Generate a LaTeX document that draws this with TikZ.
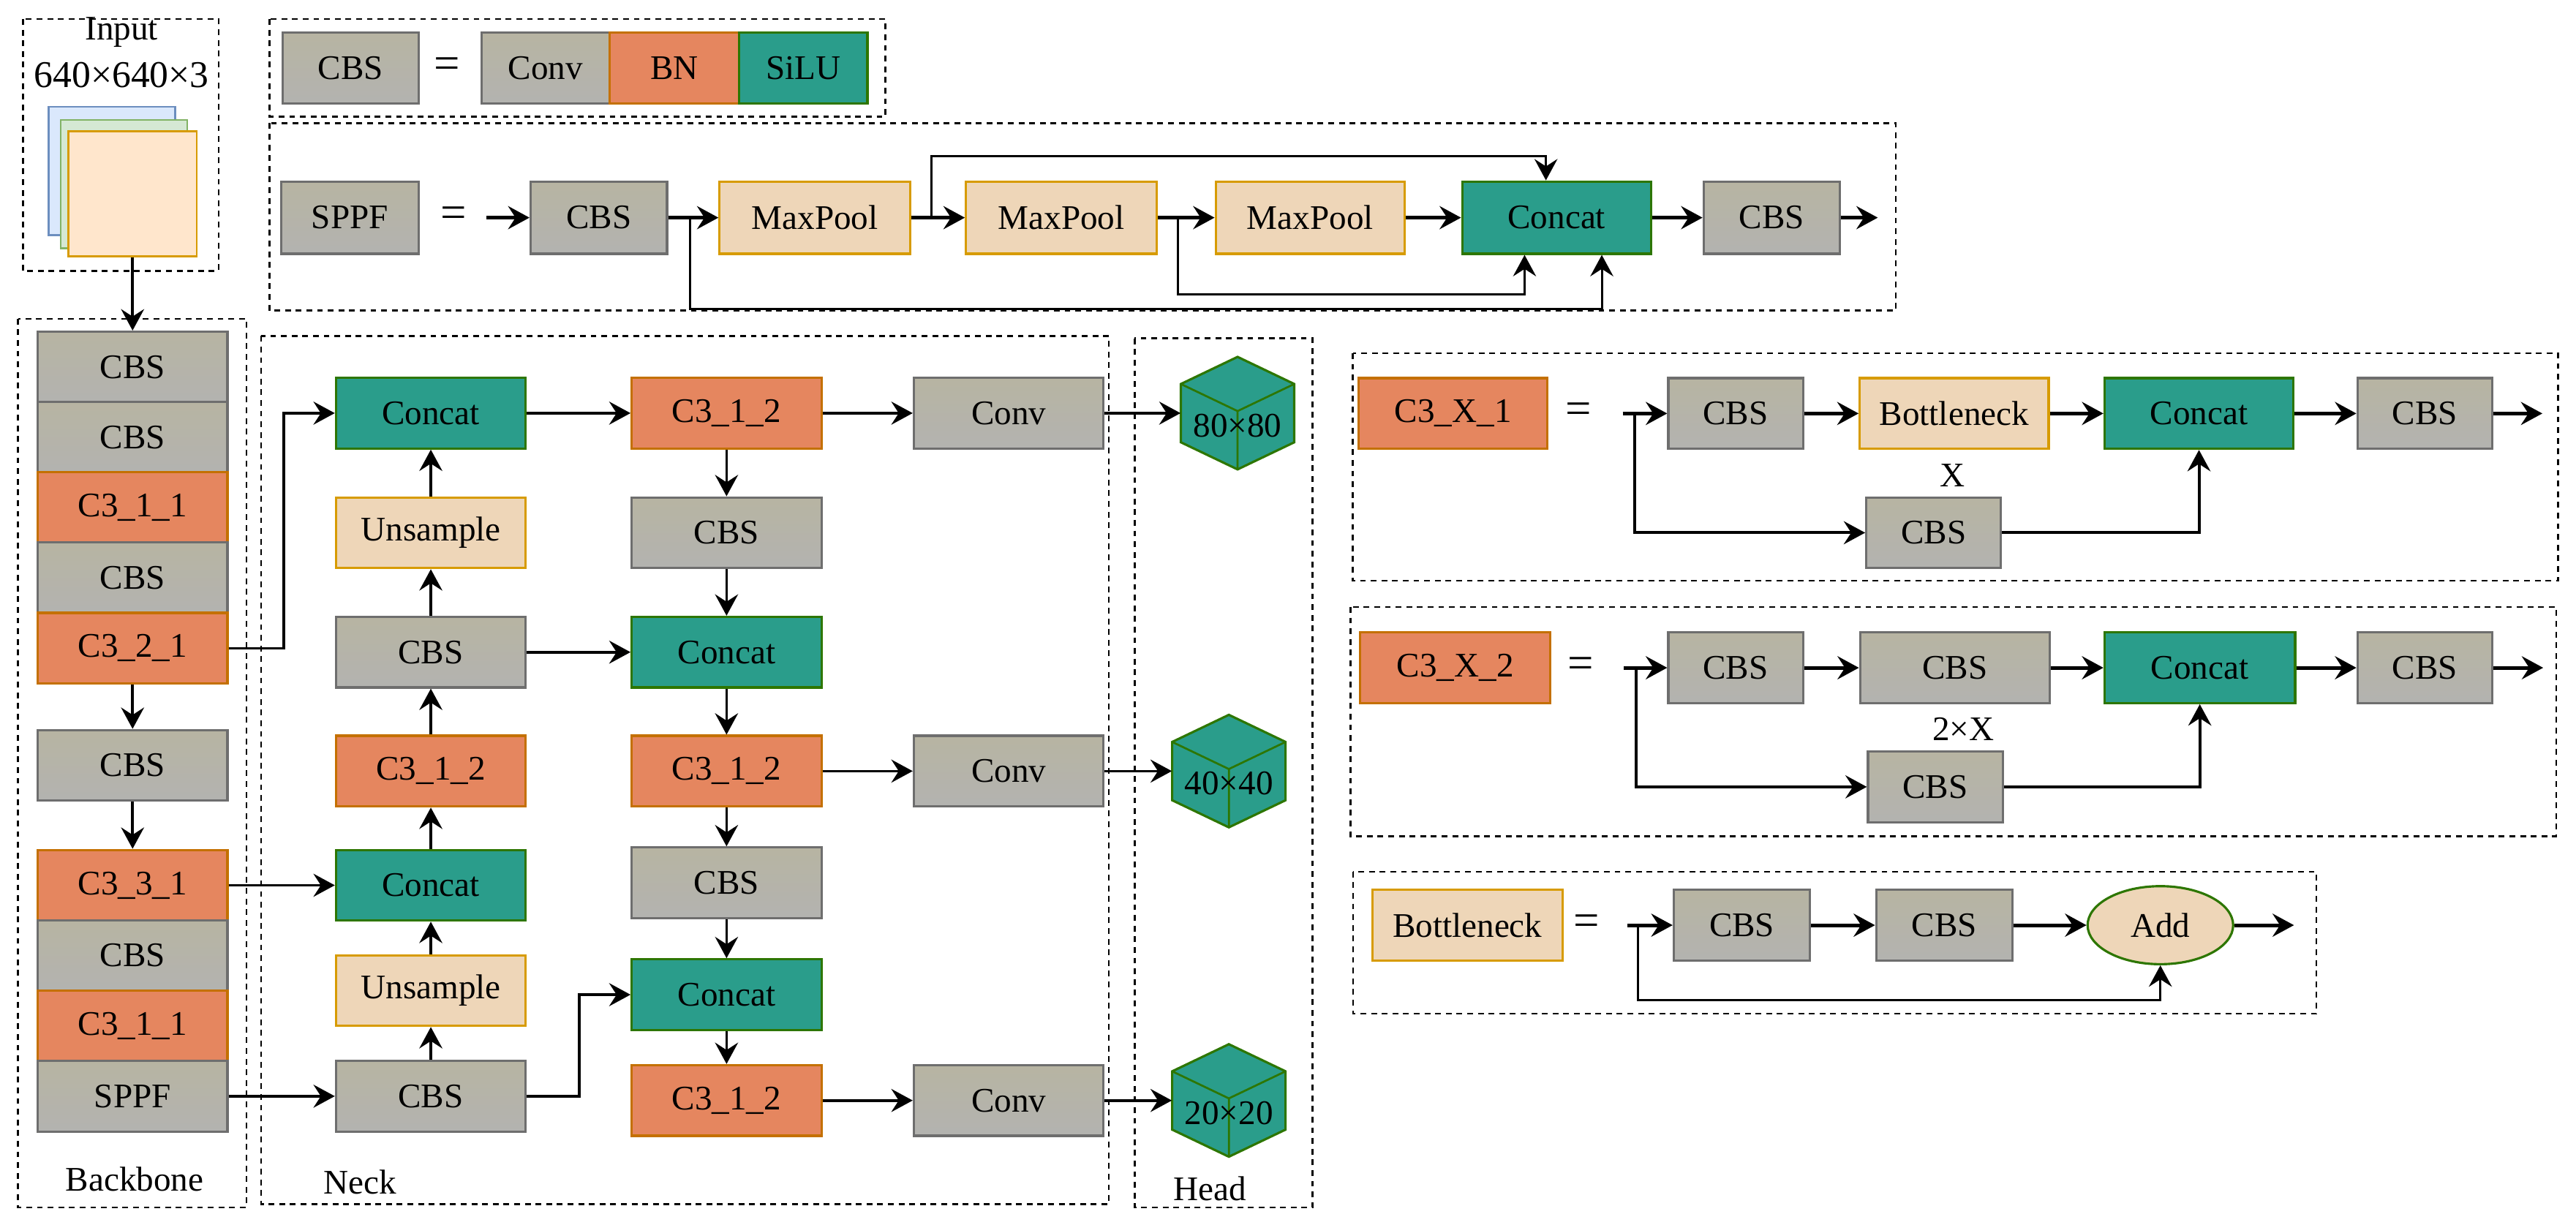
\documentclass[tikz,border=0pt]{standalone}
\usepackage{fontspec}
\setmainfont{Liberation Serif}
\usetikzlibrary{arrows.meta,shapes.geometric,calc}
\definecolor{cbstop}{RGB}{183,180,162}
\definecolor{cbsbot}{RGB}{179,179,176}
\definecolor{cbsline}{RGB}{110,110,110}
\definecolor{cfill}{RGB}{229,134,95}
\definecolor{cline}{RGB}{196,112,0}
\definecolor{tfill}{RGB}{42,157,139}
\definecolor{tline}{RGB}{45,118,0}
\definecolor{pfill}{RGB}{238,214,184}
\definecolor{pline}{RGB}{215,155,0}
\definecolor{ibfill}{RGB}{218,232,252}
\definecolor{ibline}{RGB}{108,142,191}
\definecolor{igfill}{RGB}{213,232,212}
\definecolor{igline}{RGB}{130,179,102}
\definecolor{iofill}{RGB}{255,230,204}
\definecolor{ioline}{RGB}{215,155,0}
\newcommand\mycube[4]{%
 \begin{scope}[shift={(#2,#3)}]
  \filldraw[cubeface] (0,-34.25) -- (34.5,-17.75) -- (34.5,17.75) -- (0,34.25) -- (-34.5,17.75) -- (-34.5,-17.75) -- cycle;
  \draw[cubeedge] (-34.5,-17.75) -- (0,-1.25) -- (34.5,-17.75) (0,-1.25) -- (0,34.25);
  \node[inner sep=0pt, minimum width=69pt, minimum height=35.5pt] (#1) at (0,0) {};
  \node (#1t) at (0,7.5) {#4};
 \end{scope}}
\begin{document}
\begin{tikzpicture}[x=1pt,y=-1pt,font=\fontsize{21}{25}\selectfont,
 blk/.style={draw, line width=1.4pt, inner sep=0pt, minimum height=43pt, minimum width=115.5pt},
 gbox/.style={blk, draw=cbsline, top color=cbstop, bottom color=cbsbot},
 obox/.style={blk, draw=cline, fill=cfill},
 tbox/.style={blk, draw=tline, fill=tfill},
 pbox/.style={blk, draw=pline, fill=pfill},
 nar/.style={minimum width=83pt},
 eqs/.style={font=\fontsize{28}{30}\selectfont, inner sep=0pt},
 frame/.style={line width=1.1pt, dash pattern=on 3.5pt off 3pt},
 cubeface/.style={fill=tfill, draw=tline, line width=1.4pt},
 cubeedge/.style={draw=tline, line width=1.2pt},
 arr/.style={-{Stealth[length=13pt,width=14pt,inset=4.5pt]}, line width=1.6pt},
 harr/.style={arr, line width=2.2pt},
 barr/.style={arr, line width=1.8pt},
 tarr/.style={arr, line width=1.3pt}]
\useasboundingbox (0,0) rectangle (1568,745.7);

% ---------- frames ----------
\draw[frame] (14,11.6) rectangle (133,165);
\draw[frame] (164,11.6) rectangle (539,71);
\draw[frame] (164,75) rectangle (1154,189);
\draw[frame] (11,194) rectangle (150,735);
\draw[frame] (159,204.5) rectangle (675,733);
\draw[frame] (690.7,206) rectangle (799,735);
\draw[frame] (823.4,215) rectangle (1557,353.5);
\draw[frame] (822,369.5) rectangle (1556,509);
\draw[frame] (823.5,530.6) rectangle (1410,617);

% ---------- input ----------
\node[anchor=base] (tin) at (74,24.3) {Input};
\node[anchor=base, font=\fontsize{23}{27}\selectfont] (tsz) at (74,53.4) {640×640×3};
\node[draw=ibline, fill=ibfill, line width=1.2pt, minimum width=77pt, minimum height=78pt, inner sep=0pt] (ib) at (68,104) {};
\node[draw=igline, fill=igfill, line width=1.2pt, minimum width=77pt, minimum height=78pt, inner sep=0pt] (ig) at (75.5,112) {};
\node[draw=ioline, fill=iofill, line width=1.2pt, minimum width=78pt, minimum height=76pt, inner sep=0pt] (io) at (80.7,118) {};

% ---------- CBS definition ----------
\node[gbox, nar] (cd0) at (213.5,41.5) {CBS};
\node[eqs] (cdeq) at (272,41.5) {=};
\node[gbox, minimum width=78pt] (cd1) at (332,41.5) {Conv};
\node[obox, minimum width=79pt] (cd2) at (410.5,41.5) {BN};
\node[tbox, minimum width=78pt] (cd3) at (489,41.5) {SiLU};

% ---------- SPPF definition ----------
\node[gbox, minimum width=84pt, minimum height=44pt] (sp0) at (213,132.5) {SPPF};
\node[eqs] (speq) at (276,132.5) {=};
\coordinate (spin) at (296,132.5);
\node[gbox, nar, minimum height=44pt] (sp1) at (364.5,132.5) {CBS};
\node[pbox, minimum width=116pt, minimum height=44pt] (sp2) at (496,132.5) {MaxPool};
\node[pbox, minimum width=116pt, minimum height=44pt] (sp3) at (646,132.5) {MaxPool};
\node[pbox, minimum width=115pt, minimum height=44pt] (sp4) at (797.5,132.5) {MaxPool};
\node[tbox, minimum width=115pt, minimum height=44pt] (sp5) at (947.5,132.5) {Concat};
\node[gbox, nar, minimum height=44pt] (sp6) at (1078.5,132.5) {CBS};
\coordinate (spout) at (1143,132.5);
\draw[harr] (spin) -- (sp1);
\draw[harr] (sp1) -- (sp2);
\draw[harr] (sp2) -- (sp3);
\draw[harr] (sp3) -- (sp4);
\draw[harr] (sp4) -- (sp5);
\draw[harr] (sp5) -- (sp6);
\draw[harr] (sp6) -- (spout);
\coordinate (j1) at (420,132.5);
\coordinate (j2) at (567,132.5);
\coordinate (j3) at (717,132.5);
\draw[tarr] (j1) -- ++(0,55.5) -| ([xshift=27.5pt]sp5.south);
\draw[tarr] (j2) -- ++(0,-37.5) -| ([xshift=-6.5pt]sp5.north);
\draw[tarr] (j3) -- ++(0,46.5) -| ([xshift=-19.5pt]sp5.south);

% ---------- backbone ----------
\begin{scope}[every node/.append style={minimum width=114.6pt, minimum height=42.8pt}]
\node[gbox] (b1) at (80.7,223.4) {CBS};
\node[gbox] (b2) at (80.7,266.2) {CBS};
\node[obox] (b3) at (80.7,309) {C3\_1\_1};
\node[gbox] (b4) at (80.7,351.8) {CBS};
\node[obox] (b5) at (80.7,394.6) {C3\_2\_1};
\node[gbox] (b6) at (80.7,465.9) {CBS};
\node[obox] (b7) at (80.7,538.9) {C3\_3\_1};
\node[gbox] (b8) at (80.7,581.7) {CBS};
\node[obox] (b9) at (80.7,624.5) {C3\_1\_1};
\node[gbox] (b10) at (80.7,667.3) {SPPF};
\end{scope}
\draw[arr] (io) -- (b1);
\draw[arr] (b5) -- (b6);
\draw[arr] (b6) -- (b7);
\node (lbb) at (82,718) {Backbone};

% ---------- neck ----------
\node[tbox] (n11) at (262.25,251.5) {Concat};
\node[pbox] (n12) at (262.25,324.3) {Unsample};
\node[gbox] (n13) at (262.25,397) {CBS};
\node[obox] (n14) at (262.25,469.4) {C3\_1\_2};
\node[tbox] (n15) at (262.25,538.9) {Concat};
\node[pbox] (n16) at (262.25,603) {Unsample};
\node[gbox] (n17) at (262.25,667.3) {CBS};

\node[obox] (n21) at (442.25,251.5) {C3\_1\_2};
\node[gbox] (n22) at (442.25,324.3) {CBS};
\node[tbox] (n23) at (442.25,397) {Concat};
\node[obox] (n24) at (442.25,469.4) {C3\_1\_2};
\node[gbox] (n25) at (442.25,537.4) {CBS};
\node[tbox] (n26) at (442.25,605.5) {Concat};
\node[obox] (n27) at (442.25,669.9) {C3\_1\_2};

\node[gbox] (v1) at (614,251.5) {Conv};
\node[gbox] (v2) at (614,469.4) {Conv};
\node[gbox] (v3) at (614,669.9) {Conv};

\mycube{h1}{753.3}{251.5}{80×80}
\mycube{h2}{748}{469.4}{40×40}
\mycube{h3}{748}{669.9}{20×20}

\draw[arr] (b5.east) -- ++(33.5,0) |- (n11.west);
\draw[arr] (b7) -- (n15);
\draw[arr] (b10) -- (n17);
\draw[arr] (n17) -- (n16);
\draw[arr] (n16) -- (n15);
\draw[arr] (n15) -- (n14);
\draw[arr] (n14) -- (n13);
\draw[arr] (n13) -- (n12);
\draw[arr] (n12) -- (n11);
\draw[arr] (n11) -- (n21);
\draw[arr] (n13) -- (n23);
\draw[arr] (n17.east) -- ++(32,0) |- (n26.west);
\draw[arr] (n21) -- (n22);
\draw[arr] (n22) -- (n23);
\draw[arr] (n23) -- (n24);
\draw[arr] (n24) -- (n25);
\draw[arr] (n25) -- (n26);
\draw[arr] (n26) -- (n27);
\draw[arr] (n21) -- (v1);
\draw[arr] (n24) -- (v2);
\draw[arr] (n27) -- (v3);
\draw[arr] (v1) -- (h1);
\draw[arr] (v2) -- (h2);
\draw[arr] (v3) -- (h3);
\node (lnk) at (219,719.5) {Neck};
\node (lhd) at (736.5,723.6) {Head};

% ---------- C3_X_1 ----------
\node[obox, minimum width=115pt] (x1) at (884.5,251.7) {C3\_X\_1};
\node[eqs] (x1eq) at (961,251.7) {=};
\coordinate (x1in) at (987.7,251.7);
\coordinate (x1j) at (995,251.7);
\node[gbox, minimum width=82pt] (x1a) at (1056.5,251.7) {CBS};
\node[pbox, minimum width=115pt] (x1b) at (1189.5,251.7) {Bottleneck};
\node[tbox, minimum width=115pt] (x1c) at (1338.5,251.7) {Concat};
\node[gbox, minimum width=82pt] (x1d) at (1476,251.7) {CBS};
\coordinate (x1out) at (1547.5,251.7);
\node[gbox, minimum width=82pt] (x1e) at (1177,324.3) {CBS};
\node (x1x) at (1188.6,289.4) {X};
\draw[harr] (x1in) -- (x1a);
\draw[harr] (x1a) -- (x1b);
\draw[harr] (x1b) -- (x1c);
\draw[harr] (x1c) -- (x1d);
\draw[harr] (x1d) -- (x1out);
\draw[barr] (x1j) |- (x1e.west);
\draw[barr] (x1e.east) -| (x1c.south);

% ---------- C3_X_2 ----------
\node[obox, minimum width=115.6pt] (x2) at (885.8,406.5) {C3\_X\_2};
\node[eqs] (x2eq) at (962,406.5) {=};
\coordinate (x2in) at (988.5,406.5);
\coordinate (x2j) at (996,406.5);
\node[gbox, minimum width=82pt] (x2a) at (1056.5,406.5) {CBS};
\node[gbox, minimum width=115.6pt] (x2b) at (1190,406.5) {CBS};
\node[tbox, minimum width=116pt] (x2c) at (1339,406.5) {Concat};
\node[gbox, minimum width=82pt] (x2d) at (1476,406.5) {CBS};
\coordinate (x2out) at (1548,406.5);
\node[gbox, minimum width=82pt] (x2e) at (1178,479) {CBS};
\node (x2x) at (1195,443.7) {2×X};
\draw[harr] (x2in) -- (x2a);
\draw[harr] (x2a) -- (x2b);
\draw[harr] (x2b) -- (x2c);
\draw[harr] (x2c) -- (x2d);
\draw[harr] (x2d) -- (x2out);
\draw[barr] (x2j) |- (x2e.west);
\draw[barr] (x2e.east) -| (x2c.south);

% ---------- Bottleneck ----------
\node[pbox, minimum width=115.6pt] (bk) at (893.2,563.2) {Bottleneck};
\node[eqs] (bkeq) at (965.7,563.2) {=};
\coordinate (bkin) at (990.5,563.2);
\coordinate (bkj) at (997,563.2);
\node[gbox, nar] (bk1) at (1060.3,563.2) {CBS};
\node[gbox, nar] (bk2) at (1183.5,563.2) {CBS};
\node[ellipse, draw=tline, fill=pfill, line width=1.4pt, minimum width=88.6pt, minimum height=47.5pt, inner sep=0pt] (add) at (1315,563.2) {Add};
\coordinate (bkout) at (1396.3,563.2);
\draw[harr] (bkin) -- (bk1);
\draw[harr] (bk1) -- (bk2);
\draw[harr] (bk2) -- (add);
\draw[harr] (add) -- (bkout);
\draw[arr, line width=1.5pt] (bkj) -- ++(0,45.5) -| (add.south);
\end{tikzpicture}
\end{document}
